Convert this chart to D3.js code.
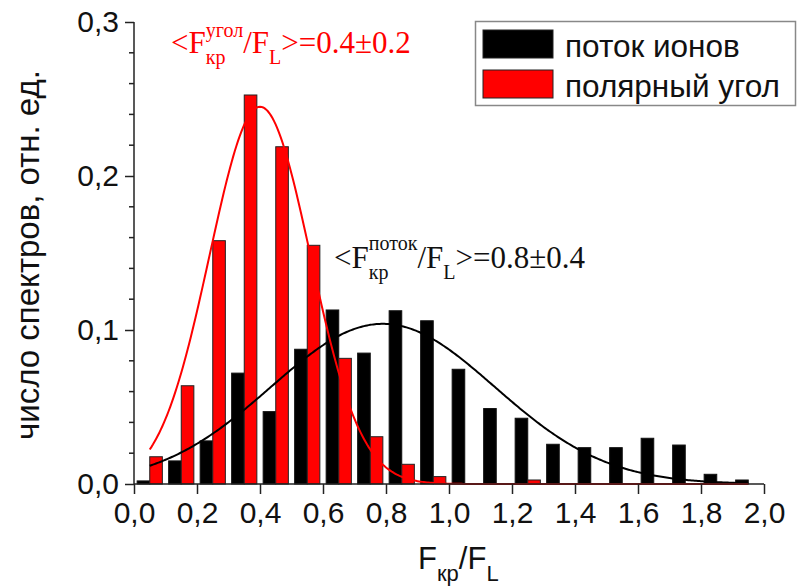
<!DOCTYPE html>
<html>
<head>
<meta charset="utf-8">
<script src="https://cdn.jsdelivr.net/npm/d3@7"></script>
<style>
  html, body { margin: 0; padding: 0; background: #fff; }
  svg { display: block; }
</style>
</head>
<body>
<svg id="chart" width="798" height="588"></svg>
<script>
// Histogram bins (centres of 0.1-wide bins of F_кр/F_L)
const binCenters = [0.05, 0.15, 0.25, 0.35, 0.45, 0.55, 0.65, 0.75, 0.85, 0.95,
                    1.05, 1.15, 1.25, 1.35, 1.45, 1.55, 1.65, 1.75, 1.85, 1.95];
// Relative number of spectra, "поток ионов"
const ionFlux = [0.002, 0.015, 0.028, 0.072, 0.047, 0.0875, 0.113, 0.085, 0.1125, 0.106,
                 0.0745, 0.049, 0.0427, 0.0258, 0.0236, 0.0236, 0.0297, 0.0253, 0.0063, 0.0026];
// Relative number of spectra, "полярный угол"
const polarAngle = [0.0177, 0.0638, 0.158, 0.2526, 0.219, 0.155, 0.0816, 0.0307, 0.0128, 0.0048,
                    0, 0, 0.0026, 0, 0, 0, 0, 0, 0, 0];
// Gaussian fits: [centre, sigma, amplitude]
const ionFit = [0.79, 0.355, 0.104];
const angleFit = [0.40, 0.16, 0.245];
const fitRange = [0.05, 1.95];

const xTicks = [0, 0.2, 0.4, 0.6, 0.8, 1.0, 1.2, 1.4, 1.6, 1.8, 2.0];
const yTicks = [0, 0.1, 0.2, 0.3];
const seriesNames = ["поток ионов", "полярный угол"];

const svg = d3.select("#chart");
const x = d3.scaleLinear().domain([0, 2]).range([134, 764]);
const y = d3.scaleLinear().domain([0, 0.3]).range([484, 22]);
const comma = d => d3.format(".1f")(d).replace(".", ",");
const sans = "'Liberation Sans', Arial, sans-serif";
const serif = "'Liberation Serif', 'Times New Roman', serif";

const barW = 0.04;
// Bars: ion flux on the left half of each bin, polar angle on the right
const plot = svg.append("g");
plot.selectAll("rect.ion").data(binCenters).join("rect")
  .attr("class", "ion")
  .attr("x", d => x(d - barW))
  .attr("width", x(barW) - x(0))
  .attr("y", (d, i) => y(ionFlux[i]))
  .attr("height", (d, i) => y(0) - y(ionFlux[i]))
  .attr("fill", "#000").attr("stroke", "#111").attr("stroke-width", 1);
plot.selectAll("rect.ang").data(binCenters.filter((d, i) => polarAngle[i] > 0)).join("rect")
  .attr("class", "ang")
  .attr("x", d => x(d))
  .attr("width", x(barW) - x(0))
  .attr("y", d => y(polarAngle[binCenters.indexOf(d)]))
  .attr("height", d => y(0) - y(polarAngle[binCenters.indexOf(d)]))
  .attr("fill", "#ff0000").attr("stroke", "#222").attr("stroke-width", 1);

// Fitted curves
function gauss(p) {
  const [c, s, a] = p;
  return t => a * Math.exp(-((t - c) * (t - c)) / (2 * s * s));
}
const samples = d3.range(0, 381).map(k => fitRange[0] + (fitRange[1] - fitRange[0]) * k / 380);
const line = f => d3.line().x(d => x(d)).y(d => y(f(d))).curve(d3.curveLinear)(samples);
plot.append("path").attr("d", line(gauss(ionFit)))
  .attr("fill", "none").attr("stroke", "#000").attr("stroke-width", 2);
plot.append("path").attr("d", line(gauss(angleFit)))
  .attr("fill", "none").attr("stroke", "#ff0000").attr("stroke-width", 2);

// Axes
const axisColor = "#222";
const xAxis = svg.append("g").attr("transform", `translate(0,${y(0)})`)
  .call(d3.axisBottom(x).tickValues(xTicks).tickSize(10).tickPadding(8).tickFormat(comma));
const yAxis = svg.append("g").attr("transform", `translate(${x(0)},0)`)
  .call(d3.axisLeft(y).tickValues(yTicks).tickSize(9).tickPadding(6).tickFormat(comma));
[xAxis, yAxis].forEach(a => {
  a.select(".domain").attr("stroke", axisColor).attr("stroke-width", 1.5);
  a.selectAll(".tick line").attr("stroke", axisColor).attr("stroke-width", 1.5);
  a.selectAll("text").attr("font-family", sans).attr("font-size", 30).attr("fill", "#111");
});
xAxis.select(".domain").attr("d", `M${x(0)},0H${x(2)}`);
yAxis.select(".domain").attr("d", `M0,${y(0)}V${y(0.3)}`);
// Minor ticks on the y axis
const minor = d3.range(1, 15).map(k => k * 0.02).filter(v => Math.abs(v * 10 - Math.round(v * 10)) > 1e-6);
yAxis.selectAll("line.minor").data(minor).join("line")
  .attr("class", "minor")
  .attr("x1", -5).attr("x2", 0)
  .attr("y1", d => y(d)).attr("y2", d => y(d))
  .attr("stroke", axisColor).attr("stroke-width", 1.5);

// Axis titles
svg.append("text")
  .attr("transform", `translate(39,${(y(0) + y(0.3)) / 2 + 2}) rotate(-90)`)
  .attr("text-anchor", "middle")
  .attr("font-family", sans).attr("font-size", 33).attr("fill", "#111")
  .text("число спектров, отн. ед.");

// Rich text helper: parts are plain strings or {sup, sub} stacks
function rich(g, x0, y0, parts, opt) {
  const t = g.append("text").attr("x", x0).attr("y", y0)
    .attr("font-family", opt.font).attr("fill", opt.color).attr("font-size", opt.size);
  let cx = x0;
  parts.forEach(p => {
    if (typeof p === "string") {
      const s = t.append("tspan").attr("x", cx).attr("y", y0).text(p);
      cx += s.node().getComputedTextLength();
    } else {
      let w = 0;
      if (p.sup) {
        const s = t.append("tspan").attr("x", cx).attr("y", y0 - opt.up)
          .attr("font-size", opt.small).text(p.sup);
        w = Math.max(w, s.node().getComputedTextLength());
      }
      if (p.sub) {
        const s = t.append("tspan").attr("x", cx).attr("y", y0 + opt.down)
          .attr("font-size", opt.small).text(p.sub);
        w = Math.max(w, s.node().getComputedTextLength());
      }
      cx += w;
    }
  });
  return cx - x0;
}

// x title F_кр/F_L
rich(svg, 418, 569, ["F", {sub: "кр"}, "/F", {sub: "L"}],
  {font: sans, color: "#111", size: 31, small: 22, up: 12, down: 12});

// Fit annotations
rich(svg, 171, 53, ["<F", {sup: "угол", sub: "кр"}, "/F", {sub: "L"}, ">=0.4±0.2"],
  {font: serif, color: "#ff0000", size: 31, small: 20, up: 16, down: 11});
rich(svg, 334, 268, ["<F", {sup: "поток", sub: "кр"}, "/F", {sub: "L"}, ">=0.8±0.4"],
  {font: serif, color: "#111", size: 31, small: 20, up: 18, down: 11});

// Legend
const lg = svg.append("g");
lg.append("rect").attr("x", 475.5).attr("y", 21.5).attr("width", 320).attr("height", 84)
  .attr("fill", "#fff").attr("stroke", "#888").attr("stroke-width", 1.5);
const swatch = ["#000", "#ff0000"];
seriesNames.forEach((name, i) => {
  lg.append("rect").attr("x", 483).attr("y", 30 + i * 40).attr("width", 70).attr("height", 28)
    .attr("fill", swatch[i]).attr("stroke", "#222").attr("stroke-width", 1);
  lg.append("text").attr("x", 565).attr("y", 57 + i * 40)
    .attr("font-family", sans).attr("font-size", 31.5).attr("fill", "#111").text(name);
});
</script>
</body>
</html>
